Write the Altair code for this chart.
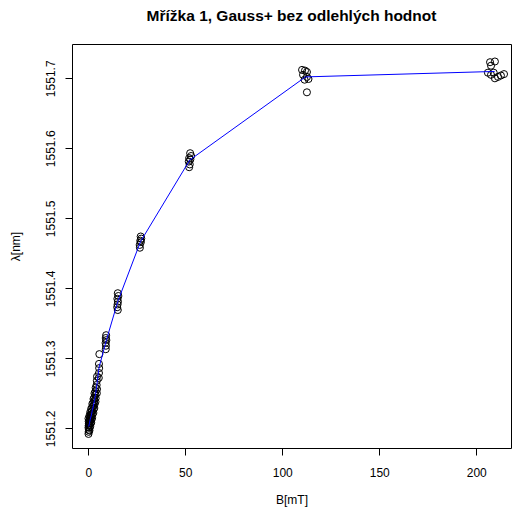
import altair as alt
import pandas as pd

# ---- data (B in mT, lambda in nm), grouped by field setting ----
b_0 = [0.1, 0.2, 0.3, 0.1, 0.2, 0.3, 0.2, 0.1]
l_0 = [1551.192, 1551.195, 1551.198, 1551.201, 1551.204, 1551.207, 1551.210, 1551.214]

b_06 = [0.6, 0.7, 0.5, 0.6, 0.7, 0.6]
l_06 = [1551.197, 1551.201, 1551.205, 1551.209, 1551.213, 1551.218]

b_1 = [1.0, 1.1, 0.9, 1.0, 1.1, 1.0]
l_1 = [1551.203, 1551.207, 1551.211, 1551.215, 1551.219, 1551.223]

b_15 = [1.5, 1.6, 1.4, 1.5, 1.6, 1.5]
l_15 = [1551.208, 1551.212, 1551.216, 1551.220, 1551.224, 1551.228]

b_2 = [2.0, 2.1, 1.9, 2.0, 2.1]
l_2 = [1551.215, 1551.220, 1551.225, 1551.230, 1551.235]

b_26 = [2.6, 2.7, 2.5, 2.6, 2.7]
l_26 = [1551.222, 1551.227, 1551.232, 1551.237, 1551.242]

b_31 = [3.1, 3.2, 3.0, 3.1, 3.2]
l_31 = [1551.229, 1551.234, 1551.239, 1551.244, 1551.250]

b_37 = [3.7, 3.8, 3.6, 3.7, 3.8]
l_37 = [1551.238, 1551.243, 1551.248, 1551.253, 1551.258]

b_44 = [4.4, 4.5, 4.3, 4.4, 4.5]
l_44 = [1551.250, 1551.256, 1551.262, 1551.268, 1551.274]

b_55 = [5.4, 5.5, 5.6, 5.5, 5.7]
l_55 = [1551.272, 1551.279, 1551.286, 1551.292, 1551.306]

b_9 = [9.2, 9.0, 9.3, 8.9, 9.1, 9.0]
l_9 = [1551.333, 1551.329, 1551.326, 1551.322, 1551.318, 1551.313]

b_15b = [15.2, 15.5, 15.0, 15.3, 15.1, 14.9, 15.2]
l_15b = [1551.393, 1551.389, 1551.385, 1551.381, 1551.377, 1551.373, 1551.369]

b_27 = [27.0, 27.3, 26.8, 27.1, 26.5, 26.6]
l_27 = [1551.474, 1551.471, 1551.468, 1551.466, 1551.462, 1551.458]

b_52 = [52.5, 53.0, 52.0, 52.6, 51.8, 52.3, 52.0]
l_52 = [1551.593, 1551.589, 1551.586, 1551.584, 1551.581, 1551.577, 1551.573]

b_111 = [110.2, 111.7, 112.7, 110.7, 112.7, 111.5, 113.5, 112.7]
l_111 = [1551.712, 1551.711, 1551.709, 1551.705, 1551.702, 1551.698, 1551.699, 1551.680]

b_210 = [207.1, 209.6, 207.6, 206.0, 207.6, 209.0, 209.6, 211.2, 212.7, 214.3]
l_210 = [1551.723, 1551.724, 1551.718, 1551.708, 1551.705, 1551.708, 1551.700, 1551.702, 1551.704, 1551.706]

group_b = [b_0, b_06, b_1, b_15, b_2, b_26, b_31, b_37, b_44, b_55, b_9, b_15b, b_27, b_52, b_111, b_210]
group_l = [l_0, l_06, l_1, l_15, l_2, l_26, l_31, l_37, l_44, l_55, l_9, l_15b, l_27, l_52, l_111, l_210]
group_names = ["0", "0.6", "1", "1.5", "2", "2.6", "3.1", "3.7", "4.4", "5.5",
               "9", "15", "27", "52", "111", "210"]

x_ticks = [0, 50, 100, 150, 200]
y_ticks = [1551.2, 1551.3, 1551.4, 1551.5, 1551.6, 1551.7]

rows = []
for name, bs, ls in zip(group_names, group_b, group_l):
    for b, l in zip(bs, ls):
        rows.append({"B": b, "L": l, "g": name})
df = pd.DataFrame(rows)

FONT = "Liberation Sans"

x_scale = alt.Scale(domain=[-8.4, 217.9], nice=False, zero=False)
y_scale = alt.Scale(domain=[1551.1719, 1551.749], nice=False, zero=False)

x_axis = alt.Axis(values=x_ticks, format="d", title="B[mT]", domain=False,
                  grid=False, tickSize=7, tickColor="black", labelColor="black",
                  labelFontSize=12, labelFont=FONT, labelPadding=12,
                  titleFont=FONT, titleFontSize=12, titleFontWeight="normal",
                  titleColor="black", titlePadding=16)
y_axis = alt.Axis(values=y_ticks, format=".1f", title="λ[nm]", domain=False,
                  grid=False, tickSize=7, tickColor="black", labelColor="black",
                  labelFontSize=12, labelFont=FONT, labelAngle=270,
                  labelAlign="center", labelBaseline="bottom", labelPadding=8,
                  titleFont=FONT, titleFontSize=12, titleFontWeight="normal",
                  titleColor="black", titlePadding=22)

base = alt.Chart(df)

pts = base.mark_point(shape="circle", filled=False, color="black", size=50,
                      strokeWidth=1, opacity=1).encode(
    x=alt.X("B:Q", scale=x_scale, axis=x_axis),
    y=alt.Y("L:Q", scale=y_scale, axis=y_axis),
)

line = base.transform_aggregate(
    B="mean(B)", L="mean(L)", groupby=["g"]
).mark_line(color="#0000ff", strokeWidth=1).encode(
    x=alt.X("B:Q", scale=x_scale, axis=x_axis),
    y=alt.Y("L:Q", scale=y_scale, axis=y_axis),
    order="B:Q",
)

chart = alt.layer(pts, line).properties(
    width=439,
    height=404,
    autosize=alt.AutoSizeParams(type="none"),
    padding={"left": 64, "top": 36, "right": 1, "bottom": 60},
    title=alt.TitleParams("Mřížka 1, Gauss+  bez odlehlých hodnot", fontSize=15.5,
                          fontWeight="bold", font=FONT, anchor="middle",
                          color="black", offset=20),
    background="white",
).configure_view(stroke="black", strokeWidth=1)

chart.save("out.html", embed_options={"renderer": "svg", "actions": False})
